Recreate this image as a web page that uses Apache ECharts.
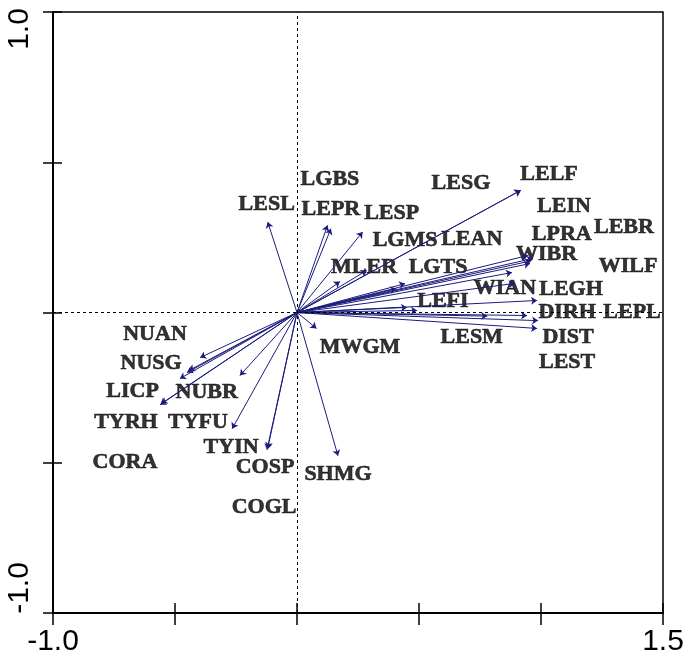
<!DOCTYPE html>
<html>
<head>
<meta charset="utf-8">
<script src="https://cdn.jsdelivr.net/npm/echarts@6/dist/echarts.min.js"></script>
<style>
  html, body { margin: 0; padding: 0; background: #fff; }
  #chart { width: 685px; height: 664px; }
</style>
</head>
<body>
<div id="chart"></div>
<script>
// variable names (one arrow + one label each)
const names = [
    "LESL", "LGBS", "LEPR", "LESP", "LGMS", "MLER", "LGTS", "LEAN", "LESG", "LELF",
    "LEIN", "LPRA", "LEBR", "WILF", "WIBR", "WIAN", "LEGH", "LEFI", "LESM", "DIRH",
    "LEPL", "DIST", "LEST",
    "NUAN", "NUSG", "LICP", "TYFU", "TYRH", "NUBR", "TYIN", "COSP", "SHMG", "MWGM",
    "CORA", "COGL",
];
// arrow tips (axis 1, axis 2)
const arrowX = [
    -0.12, 0.125, 0.139, 0.269, 0.286, 0.176, 0.443, 0.407, 0.916, 0.918,
    0.967, 0.947, 0.955, 0.96, 0.881, 0.893, 0.984, 0.492, 0.451, 0.943,
    0.988, 0.984, 0.78,
    -0.397, -0.451, -0.443, -0.48, -0.561, -0.234, -0.266, -0.123, 0.168, 0.08,
    -0.556, -0.12,
];
const arrowY = [
    0.301, 0.29, 0.279, 0.268, 0.14, 0.103, 0.096, 0.079, 0.406, 0.407,
    0.18, 0.19, 0.163, 0.172, 0.133, 0.097, 0.04, 0.007, 0.017, -0.01,
    -0.027, -0.053, -0.012,
    -0.15, -0.2, -0.193, -0.22, -0.307, -0.21, -0.387, -0.457, -0.477, -0.053,
    -0.303, -0.452,
];
// where each name is written
const labelX = [
    -0.124, 0.135, 0.139, 0.388, 0.443, 0.275, 0.578, 0.716, 0.672, 1.033,
    1.094, 1.085, 1.34, 1.357, 1.023, 0.852, 1.123, 0.598, 0.716, 1.107,
    1.373, 1.111, 1.107,
    -0.582, -0.598, -0.674, -0.406, -0.701, -0.37, -0.27, -0.131, 0.168, 0.258,
    -0.705, -0.135,
];
const labelY = [
    0.36, 0.443, 0.343, 0.33, 0.24, 0.151, 0.15, 0.243, 0.43, 0.46,
    0.353, 0.26, 0.284, 0.153, 0.193, 0.08, 0.077, 0.037, -0.083, 0.001,
    0.001, -0.083, -0.167,
    -0.073, -0.17, -0.263, -0.366, -0.366, -0.267, -0.449, -0.516, -0.537, -0.116,
    -0.5, -0.647,
];
// axis ticks that carry a label
const xTickLabels = [-1.0, 1.5];
const yTickLabels = [-1.0, 1.0];

const chart = echarts.init(document.getElementById("chart"));

function hasLabel(list, v) {
    return list.some(t => Math.abs(t - v) < 1e-9);
}

const xBase = {
    type: "value",
    min: -1,
    max: 1.5,
    interval: 0.5,
    position: "bottom",
    splitLine: { show: false },
};
const yBase = {
    type: "value",
    min: -1,
    max: 1,
    interval: 0.5,
    position: "left",
    splitLine: { show: false },
};

const option = {
    animation: false,
    grid: {
        left: 53, right: 22, top: 12, bottom: 51,
        show: true,
        borderColor: "#000",
        borderWidth: 1.5,
        outerBoundsMode: "none",
    },
    xAxis: [
        {
            ...xBase,
            axisLine: { show: true, onZero: false, lineStyle: { color: "#000", width: 2 } },
            axisTick: { show: true, length: 12, lineStyle: { color: "#000", width: 1.5 } },
            axisLabel: {
                color: "#000",
                fontFamily: "Liberation Sans",
                fontSize: 30,
                margin: 14,
                formatter: v => (hasLabel(xTickLabels, v) ? v.toFixed(1) : ""),
            },
        },
        {
            ...xBase,
            axisLine: { show: false, onZero: false },
            axisTick: { show: true, inside: true, length: 10, lineStyle: { color: "#000", width: 1.5 } },
            axisLabel: { show: false },
        },
    ],
    yAxis: [
        {
            ...yBase,
            axisLine: { show: true, onZero: false, lineStyle: { color: "#000", width: 2 } },
            axisTick: { show: true, length: 10, lineStyle: { color: "#000", width: 1.5 } },
            axisLabel: {
                color: "#000",
                fontFamily: "Liberation Sans",
                fontSize: 30,
                rotate: 90,
                margin: 18,
                formatter: v => {
                    if (!hasLabel(yTickLabels, v)) return "";
                    return v > 0 ? "{top|" + v.toFixed(1) + "}" : "{bot|" + v.toFixed(1) + "}";
                },
                rich: {
                    top: { fontFamily: "Liberation Sans", fontSize: 30, color: "#000", padding: [0, 34, 0, 0] },
                    bot: { fontFamily: "Liberation Sans", fontSize: 30, color: "#000", padding: [0, 0, 0, 50] },
                },
            },
        },
        {
            ...yBase,
            axisLine: { show: false, onZero: false },
            axisTick: { show: true, inside: true, length: 9, lineStyle: { color: "#000", width: 1.5 } },
            axisLabel: { show: false },
        },
    ],
    series: [
        {
            // names, plus the dotted zero lines
            type: "scatter",
            z: 2,
            symbolSize: 1,
            itemStyle: { color: "rgba(0,0,0,0)" },
            data: names.map((n, i) => [labelX[i], labelY[i], n]),
            label: {
                show: true,
                position: "inside",
                formatter: p => p.data[2],
                color: "#000",
                textBorderColor: "#000",
                textBorderWidth: 0.6,
                fontFamily: "Liberation Serif",
                fontWeight: "bold",
                fontSize: 22,
            },
            markLine: {
                silent: true,
                symbol: ["none", "none"],
                label: { show: false },
                lineStyle: { color: "#000", width: 1, type: [3, 3] },
                data: [{ xAxis: 0 }, { yAxis: 0 }],
            },
        },
        {
            type: "lines",
            coordinateSystem: "cartesian2d",
            z: 3,
            symbol: ["none", "arrow"],
            symbolSize: 6,
            lineStyle: { color: "#1c1c7c", width: 1, opacity: 1 },
            data: names.map((n, i) => ({ name: n, coords: [[0, 0], [arrowX[i], arrowY[i]]] })),
        },
    ],
};

chart.setOption(option);
</script>
</body>
</html>
